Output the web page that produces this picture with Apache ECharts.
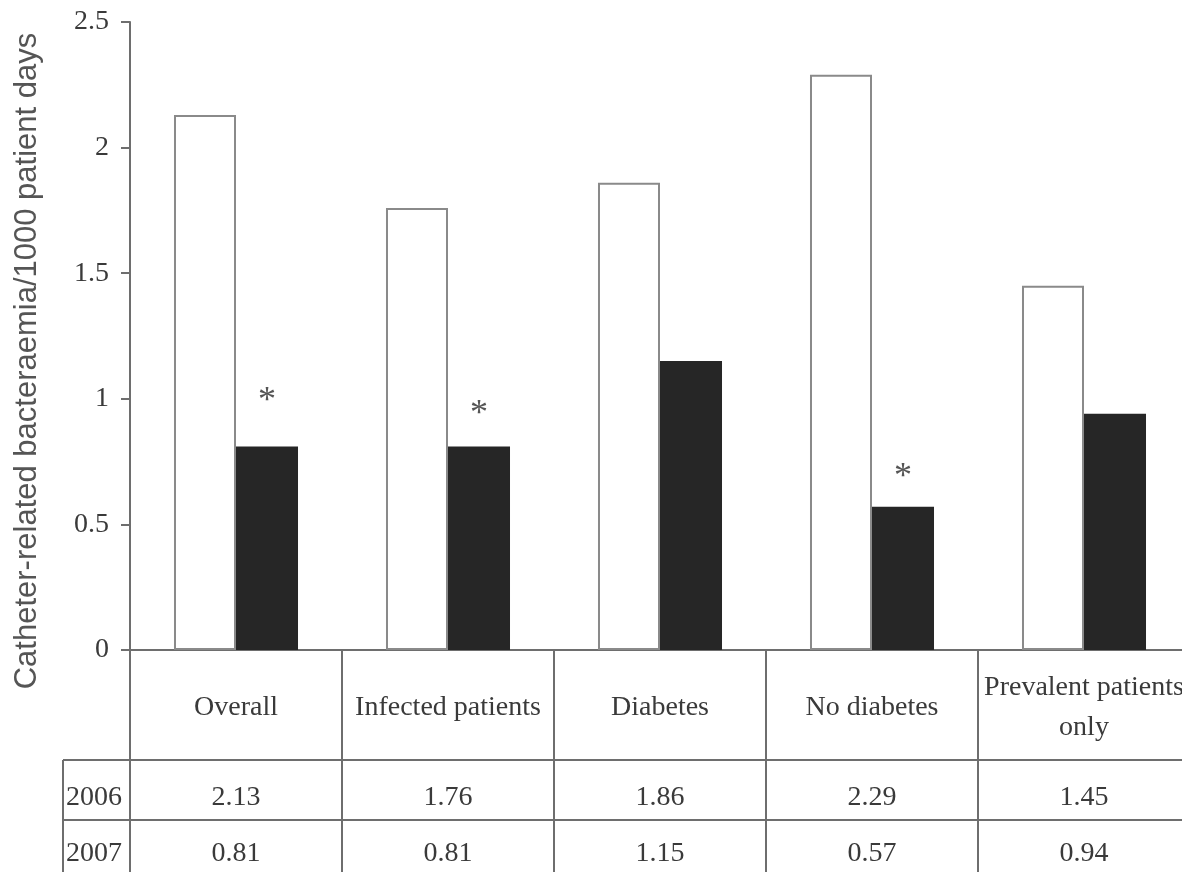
<!DOCTYPE html>
<html>
<head>
<meta charset="utf-8">
<script src="https://cdn.jsdelivr.net/npm/echarts@6/dist/echarts.min.js"></script>
<style>html,body{margin:0;padding:0;background:#fff;}#c{width:1182px;height:872px;}</style>
</head>
<body>
<div id="c"></div>
<script>
const categories = ['Overall', 'Infected patients', 'Diabetes', 'No diabetes', 'Prevalent patients\nonly'];
const years = ['2006', '2007'];
const values2006 = [2.13, 1.76, 1.86, 2.29, 1.45];
const values2007 = [0.81, 0.81, 1.15, 0.57, 0.94];
const significance = ['*', '*', '', '*', ''];
const yMin = 0, yMax = 2.5, yInterval = 0.5;
const yTitle = 'Catheter-related bacteraemia/1000 patient days';

const serif = '"Liberation Serif", "DejaVu Serif", serif';
const lineColor = '#6e6e6e';
const textColor = '#3a3a3a';
const starLift = [27, 14, 0, 11, 0];

const chart = echarts.init(document.getElementById('c'), null, {renderer: 'canvas'});
const option = {
  animation: false,
  backgroundColor: '#fff',
  grid: {left: 130, top: 22, width: 1060, height: 628, containLabel: false, outerBoundsMode: 'none'},
  xAxis: {
    type: 'category', data: categories,
    axisLine: {lineStyle: {color: lineColor, width: 2}},
    axisTick: {show: false}, axisLabel: {show: false}, splitLine: {show: false}
  },
  yAxis: {
    type: 'value', min: yMin, max: yMax, interval: yInterval,
    axisLine: {show: true, lineStyle: {color: lineColor, width: 2}},
    axisTick: {show: true, length: 9, lineStyle: {color: lineColor, width: 2}},
    axisLabel: {margin: 21, fontFamily: serif, fontSize: 28, color: textColor},
    splitLine: {show: false}
  },
  series: [
    {
      name: years[0], type: 'bar', data: values2006,
      barGap: '0%', barCategoryGap: '41.5%',
      itemStyle: {color: '#ffffff', borderColor: '#8a8a8a', borderWidth: 2}
    },
    {
      name: years[1], type: 'bar',
      data: values2007.map((v, i) => ({
        value: v,
        label: {show: significance[i] !== '', distance: starLift[i]}
      })),
      itemStyle: {color: '#262626', borderColor: '#262626', borderWidth: 0},
      label: {
        position: 'top', fontFamily: serif, fontSize: 36, color: '#555',
        formatter: p => significance[p.dataIndex]
      }
    }
  ]
};
chart.setOption(option);

// Data table beneath the chart, laid out from the axis scale
const x0 = chart.convertToPixel({xAxisIndex: 0}, 0);
const x1 = chart.convertToPixel({xAxisIndex: 0}, 1);
const step = x1 - x0;
const yBase = chart.convertToPixel({yAxisIndex: 0}, 0);
const axisX = x0 - step / 2;
const H = 872;
const headerBottom = yBase + 110;
const row1Bottom = headerBottom + 60;
const labelLeft = 63;
const rightEdge = 1182;
const lineStyle = {stroke: lineColor, lineWidth: 2};
const g = [];
for (let i = 0; i <= categories.length; i++) {
  const bx = axisX + i * step;
  g.push({type: 'line', shape: {x1: bx, y1: yBase, x2: bx, y2: H}, style: lineStyle});
}
g.push({type: 'line', shape: {x1: labelLeft, y1: headerBottom, x2: labelLeft, y2: H}, style: lineStyle});
g.push({type: 'line', shape: {x1: labelLeft, y1: headerBottom, x2: rightEdge, y2: headerBottom}, style: lineStyle});
g.push({type: 'line', shape: {x1: labelLeft, y1: row1Bottom, x2: rightEdge, y2: row1Bottom}, style: lineStyle});
const font = '28px ' + serif;
categories.forEach((c, i) => {
  const cx = chart.convertToPixel({xAxisIndex: 0}, i);
  g.push({type: 'text', x: cx, y: (yBase + headerBottom) / 2 + 3,
    style: {text: c, font: font, fill: textColor, align: 'center', verticalAlign: 'middle', lineHeight: 40}});
  g.push({type: 'text', x: cx, y: (headerBottom + row1Bottom) / 2 + 8,
    style: {text: values2006[i].toFixed(2), font: font, fill: textColor, align: 'center', verticalAlign: 'middle'}});
  g.push({type: 'text', x: cx, y: (row1Bottom + H) / 2 + 8,
    style: {text: values2007[i].toFixed(2), font: font, fill: textColor, align: 'center', verticalAlign: 'middle'}});
});
g.push({type: 'text', x: labelLeft + 3, y: (headerBottom + row1Bottom) / 2 + 8,
  style: {text: years[0], font: font, fill: textColor, align: 'left', verticalAlign: 'middle'}});
g.push({type: 'text', x: labelLeft + 3, y: (row1Bottom + H) / 2 + 8,
  style: {text: years[1], font: font, fill: textColor, align: 'left', verticalAlign: 'middle'}});
g.push({type: 'text', x: 27, y: 361, rotation: Math.PI / 2,
  style: {text: yTitle, font: '31px "Liberation Sans", Arial, sans-serif', fill: '#555', align: 'center', verticalAlign: 'middle'}});
chart.setOption({graphic: g});
</script>
</body>
</html>
